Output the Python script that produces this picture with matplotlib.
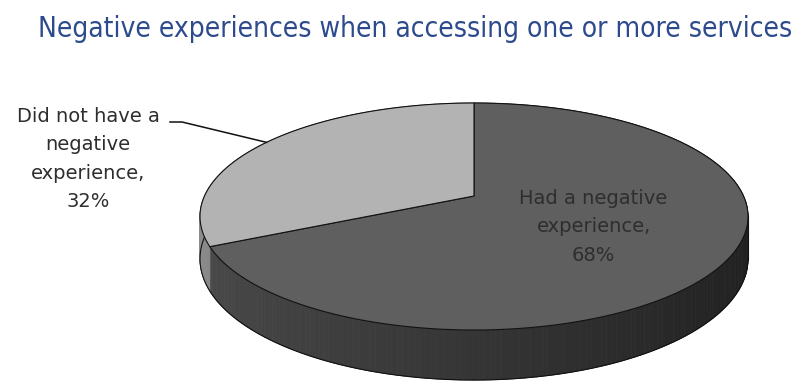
import numpy as np
import matplotlib
matplotlib.use("Agg")
import matplotlib.pyplot as plt
from matplotlib.patches import Polygon
from matplotlib.collections import PolyCollection

title = "Negative experiences when accessing one or more services"
labels = ["Had a negative\nexperience,\n68%", "Did not have a\nnegative\nexperience,\n32%"]
values = [68, 32]
top_colors = ["#5f5f5f", "#b3b3b3"]

# 3d pie layout, pixel units
cx, cy = 474, 196      # projected centre of the pie
rx, ry = 269.5, 109.8  # ellipse half axes before perspective
persp = -0.1806        # perspective factor, near side larger
depth = 41             # thickness of the pie


def proj(theta, r=1.0):
    t = np.radians(theta)
    u = r * np.cos(t)
    v = -r * np.sin(t)
    s = 1.0 / (1.0 + persp * v)
    return cx + rx * u * s, cy + ry * v * s


def thick(theta):
    v = -np.sin(np.radians(theta))
    return depth / (1.0 + persp * v)


def shade(color, theta):
    rgb = np.array(matplotlib.colors.to_rgb(color))
    f = 0.56 - 0.22 * np.cos(np.radians(theta))
    return tuple(np.clip(rgb * f, 0, 1))


fig = plt.figure(figsize=(8, 3.83), dpi=100)
ax = fig.add_axes([0, 0, 1, 1])
ax.set_xlim(0, 800)
ax.set_ylim(383, 0)
ax.axis("off")

total = sum(values)
start = 90.0
spans = []
for val in values:
    sweep = 360.0 * val / total
    spans.append((start, start - sweep))
    start -= sweep

# side walls first
for (a0, a1), col in zip(spans, top_colors):
    th = np.linspace(a0, a1, 240)
    quads, cols = [], []
    for t0, t1 in zip(th[:-1], th[1:]):
        x0, y0 = proj(t0)
        x1, y1 = proj(t1)
        quads.append([(x0, y0), (x1, y1), (x1, y1 + thick(t1)), (x0, y0 + thick(t0))])
        c = shade(col, (t0 + t1) / 2)
        cols.append(c)
    ax.add_collection(PolyCollection(quads, facecolors=cols, edgecolors=cols, linewidths=0.6, zorder=1))

# outline of the lower rim
th = np.linspace(-190.4, -10.4, 400)
bx, by = proj(th)
ax.plot(bx, by + thick(th), color="#111111", lw=0.8, zorder=2)
for t in (-190.4, -10.4):
    x, y = proj(t)
    ax.plot([x, x], [y, y + thick(t)], color="#111111", lw=0.8, zorder=2)

# top faces
for (a0, a1), col in zip(spans, top_colors):
    th = np.linspace(a0, a1, 300)
    xs, ys = proj(th)
    pts = [(cx, cy)] + list(zip(xs, ys))
    ax.add_patch(Polygon(pts, closed=True, facecolor=col, edgecolor="#111111", lw=0.8, zorder=3))

label_font = dict(family=["DejaVu Sans"], fontsize=14, color="#2e2e2e", linespacing=1.62)

# label inside the large slice
mid = (spans[0][0] + spans[0][1]) / 2
lx, ly = proj(mid, 0.5)
ax.text(lx, ly, labels[0], ha="center", va="center", zorder=5, **label_font)

# label outside the small slice, with a leader line
mid = (spans[1][0] + spans[1][1]) / 2
ex, ey = proj(mid)
ax.plot([170, 182, ex], [122, 122, ey], color="#111111", lw=1.1, zorder=4)
ax.text(88, 159, labels[1], ha="center", va="center", zorder=5, **label_font)

ax.text(38, 37, title, ha="left", va="baseline", fontsize=20.2,
        family=["DejaVu Sans"], fontstretch="condensed", color="#2d4b8c")

fig.savefig("out.png", dpi=100)
